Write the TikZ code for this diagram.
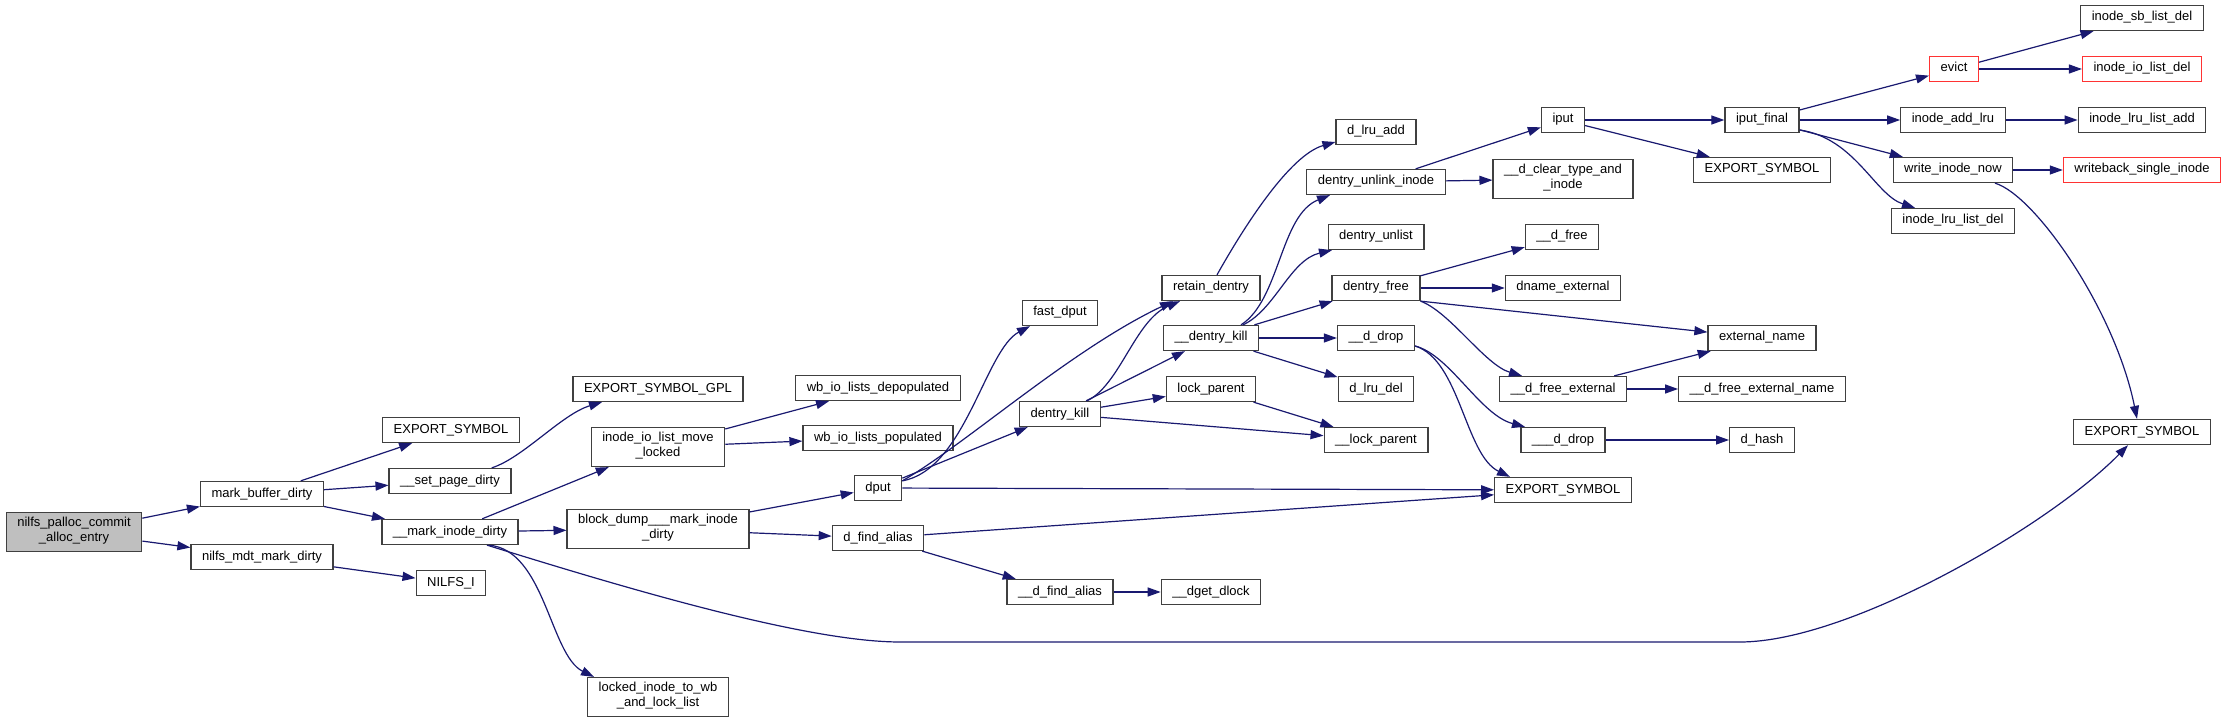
\documentclass[tikz,border=0pt]{standalone}
\usepackage{fontspec}
\setmainfont{Liberation Sans}
\usepackage{tikz}
\usetikzlibrary{arrows.meta}
\definecolor{callEdge}{RGB}{25,25,112}
\definecolor{boxLine}{RGB}{64,64,64}
\definecolor{rootFill}{RGB}{191,191,191}
\definecolor{linkRed}{RGB}{255,51,51}
\newcommand{\fnfont}{\fontsize{13}{15}\selectfont}

\begin{document}
\begin{tikzpicture}[x=1pt, y=-1pt, >={Triangle[length=13pt, width=9pt]},
  fn/.style={draw=boxLine, line width=1.3pt, fill=white, font=\fnfont, align=center,
    inner xsep=11pt, inner ysep=5pt, execute at begin node=\strut, execute at end node=\strut},
  fnred/.style={fn, draw=linkRed},
  root/.style={fn, fill=rootFill},
  call/.style={->, draw=callEdge, line width=1.2pt}]
  \path[use as bounding box, fill=white] (0,0) rectangle (2225,727);

  \node[root] (palloc) at (74,532) {nilfs\_palloc\_commit\\\_alloc\_entry};
  \node[fn] (mbd) at (262,494) {mark\_buffer\_dirty};
  \node[fn] (nmmd) at (262,557) {nilfs\_mdt\_mark\_dirty};
  \node[fn] (esA) at (451,430) {EXPORT\_SYMBOL};
  \node[fn] (spd) at (450,481) {\_\_set\_page\_dirty};
  \node[fn] (mid) at (450,532) {\_\_mark\_inode\_dirty};
  \node[fn] (nilfsi) at (451,583) {NILFS\_I};
  \node[fn] (gpl) at (658,389) {EXPORT\_SYMBOL\_GPL};
  \node[fn] (iolm) at (658,447) {inode\_io\_list\_move\\\_locked};
  \node[fn] (bdmid) at (658,529) {block\_dump\_\_\_mark\_inode\\\_dirty};
  \node[fn] (liwb) at (658,697) {locked\_inode\_to\_wb\\\_and\_lock\_list};
  \node[fn] (wbdep) at (878,388) {wb\_io\_lists\_depopulated};
  \node[fn] (wbpop) at (878,438) {wb\_io\_lists\_populated};
  \node[fn] (dput) at (878,488) {dput};
  \node[fn] (dfa) at (878,538) {d\_find\_alias};
  \node[fn] (fdput) at (1060,313) {fast\_dput};
  \node[fn] (dkill) at (1060,414) {dentry\_kill};
  \node[fn] (udfa) at (1060,592) {\_\_d\_find\_alias};
  \node[fn] (retain) at (1211,288) {retain\_dentry};
  \node[fn] (udkill) at (1211,338) {\_\_dentry\_kill};
  \node[fn] (lockp) at (1211,389) {lock\_parent};
  \node[fn] (dget) at (1211,592) {\_\_dget\_dlock};
  \node[fn] (lruadd) at (1376,132) {d\_lru\_add};
  \node[fn] (unlink) at (1376,182) {dentry\_unlink\_inode};
  \node[fn] (unlist) at (1376,237) {dentry\_unlist};
  \node[fn] (dfree) at (1376,288) {dentry\_free};
  \node[fn] (udrop) at (1376,338) {\_\_d\_drop};
  \node[fn] (lrudel) at (1376,389) {d\_lru\_del};
  \node[fn] (ulockp) at (1376,440) {\_\_lock\_parent};
  \node[fn] (iput) at (1563,120) {iput};
  \node[fn] (clear) at (1563,179) {\_\_d\_clear\_type\_and\\\_inode};
  \node[fn] (udfree) at (1562,237) {\_\_d\_free};
  \node[fn] (dname) at (1563,288) {dname\_external};
  \node[fn] (udfext) at (1563,389) {\_\_d\_free\_external};
  \node[fn] (uudrop) at (1563,440) {\_\_\_d\_drop};
  \node[fn] (esC) at (1563,490) {EXPORT\_SYMBOL};
  \node[fn] (iputf) at (1762,120) {iput\_final};
  \node[fn] (esB) at (1762,170) {EXPORT\_SYMBOL};
  \node[fn] (extname) at (1762,338) {external\_name};
  \node[fn] (udfextn) at (1762,389) {\_\_d\_free\_external\_name};
  \node[fn] (dhash) at (1762,440) {d\_hash};
  \node[fnred] (evict) at (1954,69) {evict};
  \node[fn] (addlru) at (1953,120) {inode\_add\_lru};
  \node[fn] (winow) at (1953,170) {write\_inode\_now};
  \node[fn] (lrulistdel) at (1953,221) {inode\_lru\_list\_del};
  \node[fn] (sbdel) at (2142,18) {inode\_sb\_list\_del};
  \node[fnred] (iodel) at (2142,69) {inode\_io\_list\_del};
  \node[fn] (lrulistadd) at (2142,120) {inode\_lru\_list\_add};
  \node[fnred] (wbsingle) at (2142,170) {writeback\_single\_inode};
  \node[fn] (esD) at (2142,432) {EXPORT\_SYMBOL};

  \draw[call] (palloc) -- (mbd);
  \draw[call] (palloc) -- (nmmd);
  \draw[call] (mbd) -- (esA);
  \draw[call] (mbd) -- (spd);
  \draw[call] (mbd) -- (mid);
  \draw[call] (nmmd) -- (nilfsi);
  \draw[call] (spd) .. controls (523,458) and (562,414) .. ([xshift=-56pt]gpl.south);
  \draw[call] (mid) -- (iolm);
  \draw[call] (mid) -- (bdmid);
  \draw[call] ([xshift=39pt]mid.south) .. controls (545,550) and (550,655) .. ([xshift=-64pt]liwb.north);
  \draw[call] ([xshift=37pt]mid.south) .. controls (600,580) and (800,642) .. (900,642)
    -- (1740,642) .. controls (1850,642) and (2050,525) .. ([xshift=-14pt]esD.south);
  \draw[call] (iolm) -- (wbdep);
  \draw[call] (iolm) -- (wbpop);
  \draw[call] (bdmid) -- (dput);
  \draw[call] (bdmid) -- (dfa);
  \draw[call] ([yshift=-6pt]dput.north east) .. controls (965,470) and (985,350) .. ([xshift=-30pt]fdput.south);
  \draw[call] ([yshift=-6pt]dput.north east) .. controls (965,445) and (1070,350) .. ([xshift=-38pt]retain.south);
  \draw[call] (dput) -- (dkill);
  \draw[call] (dput) -- (esC);
  \draw[call] (dfa) -- (esC);
  \draw[call] (dfa) -- (udfa);
  \draw[call] (udfa) -- (dget);
  \draw[call] ([xshift=27pt]dkill.north) .. controls (1120,385) and (1135,320) .. ([xshift=-31pt]retain.south);
  \draw[call] (dkill) -- (udkill);
  \draw[call] (dkill) -- (lockp);
  \draw[call] (dkill) -- (ulockp);
  \draw[call] (lockp) -- (ulockp);
  \draw[call] ([xshift=6pt]retain.north) .. controls (1245,225) and (1290,155) .. ([yshift=-10pt]lruadd.west);
  \draw[call] ([xshift=30pt]udkill.north) .. controls (1280,300) and (1280,215) .. ([xshift=-46pt]unlink.south);
  \draw[call] ([xshift=32pt]udkill.north) .. controls (1275,310) and (1290,260) .. ([xshift=-44pt]unlist.south);
  \draw[call] (udkill) -- (dfree);
  \draw[call] (udkill) -- (udrop);
  \draw[call] (udkill) -- (lrudel);
  \draw[call] (unlink) -- (iput);
  \draw[call] (unlink) -- (clear);
  \draw[call] (iput) -- (iputf);
  \draw[call] (iput) -- (esB);
  \draw[call] (iputf) -- (evict);
  \draw[call] (iputf) -- (addlru);
  \draw[call] (iputf) -- (winow);
  \draw[call] ([yshift=-10pt]iputf.east) .. controls (1855,138) and (1875,195) .. ([xshift=-38pt]lrulistdel.north);
  \draw[call] (evict) -- (sbdel);
  \draw[call] (evict) -- (iodel);
  \draw[call] (addlru) -- (lrulistadd);
  \draw[call] (winow) -- (wbsingle);
  \draw[call] ([xshift=42pt]winow.south) .. controls (2035,195) and (2115,310) .. ([xshift=-5pt]esD.north);
  \draw[call] (dfree) -- (udfree);
  \draw[call] (dfree) -- (dname);
  \draw[call] (dfree.south east) -- (extname);
  \draw[call] (dfree.south east) .. controls (1450,312) and (1485,365) .. ([xshift=-41pt]udfext.north);
  \draw[call] (udfext) -- (extname);
  \draw[call] (udfext) -- (udfextn);
  \draw[call] ([yshift=-8pt]udrop.east) .. controls (1450,355) and (1480,415) .. ([xshift=-38pt]uudrop.north);
  \draw[call] ([yshift=-8pt]udrop.east) .. controls (1460,360) and (1465,455) .. ([xshift=-53pt]esC.north);
  \draw[call] (uudrop) -- (dhash);
\end{tikzpicture}
\end{document}
